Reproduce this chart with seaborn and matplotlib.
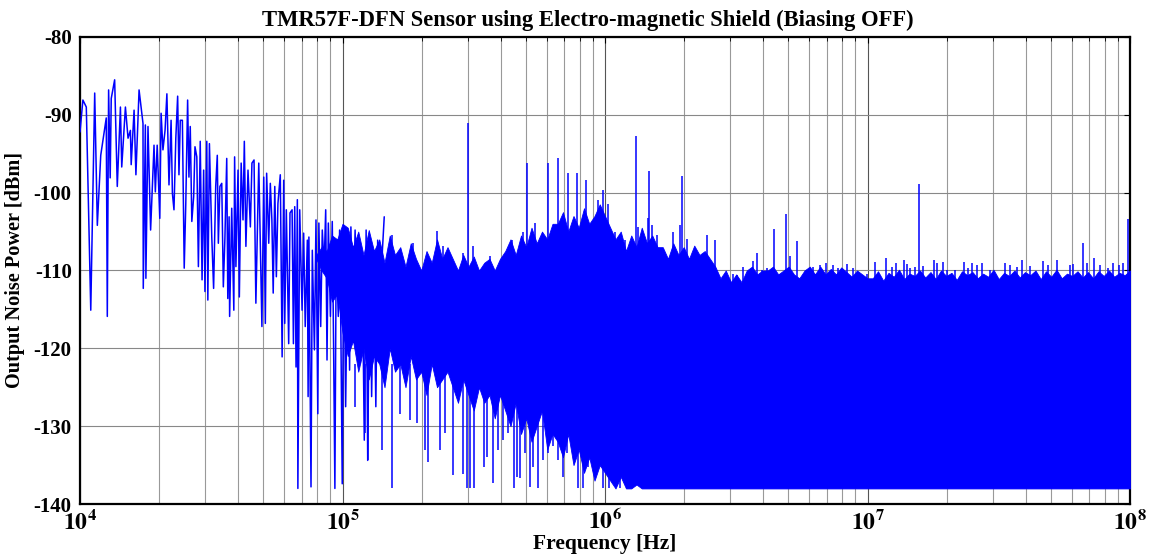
import numpy as np
import pandas as pd
import matplotlib
matplotlib.use("Agg")
import matplotlib.pyplot as plt
import seaborn as sns
from matplotlib.ticker import FixedLocator, LogLocator, NullFormatter

# ---------------- data ----------------
# Low-frequency part of the trace: log10(frequency / Hz) and power in dBm
sparse_log10_freq = [
    4.000, 4.011, 4.024, 4.041, 4.056, 4.066, 4.079, 4.100, 4.104, 4.109,
    4.115, 4.119, 4.132, 4.142, 4.154, 4.159, 4.173, 4.183, 4.192, 4.195,
    4.206, 4.213, 4.225, 4.240, 4.241, 4.249, 4.251, 4.259, 4.269, 4.282,
    4.287, 4.294, 4.304, 4.309, 4.316, 4.324, 4.331, 4.339, 4.347, 4.352,
    4.358, 4.365, 4.372, 4.377, 4.382, 4.390, 4.397, 4.403, 4.410, 4.415,
    4.420, 4.426, 4.433, 4.438, 4.445, 4.451, 4.458, 4.465, 4.471, 4.476,
    4.483, 4.487, 4.493, 4.502, 4.509, 4.517, 4.523, 4.527, 4.533, 4.540,
    4.546, 4.552, 4.559, 4.563, 4.568, 4.570, 4.578, 4.586, 4.589, 4.594,
    4.602, 4.607, 4.614, 4.621, 4.626, 4.632, 4.640, 4.649, 4.655, 4.663,
    4.670, 4.681, 4.686, 4.693, 4.700, 4.706, 4.711, 4.719, 4.725, 4.731,
    4.736, 4.742, 4.748, 4.754, 4.763, 4.770, 4.776, 4.780, 4.786, 4.795,
    4.800, 4.808, 4.813, 4.818, 4.823, 4.828, 4.830, 4.837, 4.846, 4.852,
    4.858, 4.866, 4.869, 4.872, 4.880, 4.885, 4.893, 4.899, 4.906, 4.910,
    4.917, 4.923, 4.930, 4.936, 4.941, 4.946, 4.954, 4.961, 4.966, 4.971,
    4.976, 4.984, 4.989, 4.994, 4.999, 5.005, 5.012, 5.020, 5.027, 5.032,
    5.040, 5.048, 5.055, 5.063, 5.068, 5.075, 5.083, 5.090, 5.096, 5.104,
    5.111, 5.119, 5.127, 5.134, 5.142, 5.152, 5.159,
]
sparse_power_dbm = [
    -92.2, -88.1, -89.0, -115.1, -87.2, -104.2, -95.2, -90.4, -115.9, -86.8,
    -98.1, -87.9, -85.5, -99.2, -89.0, -96.7, -89.0, -93.0, -92.0, -96.4,
    -89.4, -97.7, -86.8, -91.1, -112.3, -91.3, -111.0, -91.5, -104.8, -93.9,
    -99.9, -93.9, -103.3, -89.8, -94.5, -92.0, -87.3, -99.0, -90.7, -100.1,
    -102.2, -93.0, -87.6, -97.7, -90.7, -90.7, -109.7, -101.4, -88.1, -98.0,
    -91.5, -103.7, -100.5, -94.1, -95.4, -109.5, -93.4, -111.2, -97.1, -112.7,
    -93.4, -113.8, -93.7, -105.7, -112.3, -99.2, -95.2, -106.5, -99.2, -98.8,
    -112.1, -105.9, -95.6, -113.6, -103.1, -115.9, -102.0, -115.1, -95.4, -109.5,
    -97.1, -113.4, -96.2, -103.5, -93.4, -106.9, -97.1, -104.4, -96.2, -95.8,
    -114.2, -96.2, -105.2, -117.2, -98.0, -116.8, -97.5, -106.5, -98.8, -103.5,
    -112.9, -99.2, -110.8, -101.4, -97.7, -121.1, -98.4, -116.8, -102.2, -119.4,
    -102.6, -102.2, -119.4, -101.8, -122.4, -100.9, -138.0, -102.2, -115.1, -105.2,
    -117.2, -106.1, -126.2, -105.7, -137.8, -107.4, -120.2, -103.5, -128.4, -103.9,
    -117.2, -104.8, -109.5, -102.2, -121.5, -103.9, -115.9, -103.7, -119.4, -138.0,
    -107.4, -115.9, -104.8, -118.5, -137.4, -104.8, -127.5, -106.1, -122.8, -104.4,
    -118.5, -104.8, -116.8, -107.4, -121.9, -108.2, -131.8, -104.8, -134.4, -106.5,
    -126.2, -107.4, -127.5, -106.1, -121.9, -107.4, -103.1,
]

# Dense part: solid core band of the trace (upper / lower edge)
core_log10_freq = [
    4.90, 4.92, 4.94, 4.96, 4.98, 5.00,
    5.02, 5.04, 5.06, 5.08, 5.10, 5.12, 5.14, 5.16, 5.18, 5.20,
    5.22, 5.24, 5.26, 5.28, 5.30, 5.32, 5.34, 5.36, 5.38, 5.40,
    5.42, 5.44, 5.46, 5.48, 5.50, 5.52, 5.54, 5.56, 5.58, 5.60,
    5.62, 5.64, 5.66, 5.68, 5.70, 5.72, 5.74, 5.76, 5.78, 5.80,
    5.82, 5.84, 5.86, 5.88, 5.90, 5.92, 5.94, 5.96, 5.98, 6.00,
    6.02, 6.04, 6.06, 6.08, 6.10, 6.12, 6.14, 6.16, 6.18, 6.20,
    6.22, 6.24, 6.26, 6.28, 6.30, 6.32, 6.34, 6.36, 6.38, 6.40,
    6.42, 6.44, 6.46, 6.48, 6.50, 6.52, 6.54, 6.56, 6.58, 6.60,
    6.62, 6.64, 6.66, 6.68, 6.70, 6.72, 6.74, 6.76, 6.78, 6.80,
    6.82, 6.84, 6.86, 6.88, 6.90, 6.92, 6.94, 6.96, 6.98, 7.00,
    7.02, 7.04, 7.06, 7.08, 7.10, 7.12, 7.14, 7.16, 7.18, 7.20,
    7.22, 7.24, 7.26, 7.28, 7.30, 7.32, 7.34, 7.36, 7.38, 7.40,
    7.42, 7.44, 7.46, 7.48, 7.50, 7.52, 7.54, 7.56, 7.58, 7.60,
    7.62, 7.64, 7.66, 7.68, 7.70, 7.72, 7.74, 7.76, 7.78, 7.80,
    7.82, 7.84, 7.86, 7.88, 7.90, 7.92, 7.94, 7.96, 7.98, 8.00,
]
core_upper_dbm = [
    -108.0, -107.0, -107.5, -105.5, -106.0, -104.0,
    -104.5, -107.0, -105.0, -108.0, -104.8, -107.5, -106.0, -109.0, -105.5, -108.0,
    -107.0, -109.5, -106.5, -108.5, -110.0, -107.5, -109.0, -106.0, -108.5, -107.0,
    -108.5, -110.0, -108.0, -109.5, -108.2, -110.0, -109.0, -108.5, -110.0, -108.5,
    -107.5, -106.0, -108.0, -105.5, -107.0, -104.5, -106.5, -105.0, -106.0, -104.0,
    -104.0, -102.5, -105.0, -103.0, -104.5, -102.0, -104.0, -103.0, -101.5, -103.0,
    -104.5, -106.0, -105.0, -107.5, -105.5, -107.0, -104.5, -106.5, -105.5, -107.0,
    -107.0, -108.5, -106.5, -108.0, -107.0, -108.5, -106.8, -108.0, -107.5, -108.5,
    -109.5, -111.0, -110.0, -111.5, -110.5, -111.5, -110.0, -109.5, -110.5, -110.0,
    -110.0, -109.5, -110.5, -110.0, -109.5, -110.5, -111.0, -110.0, -109.5, -110.5,
    -109.5, -110.5, -109.8, -110.5, -109.6, -110.2, -110.8, -110.0, -110.5, -111.0,
    -111.0, -110.1, -111.3, -110.3, -110.8, -109.9, -111.1, -110.4, -110.7, -110.0,
    -110.9, -110.2, -111.1, -110.0, -110.7, -110.3, -111.2, -110.1, -110.6, -110.2,
    -111.0, -110.4, -110.8, -109.9, -111.1, -110.3, -110.7, -110.0, -110.9, -110.2,
    -110.6, -110.0, -111.1, -110.1, -110.8, -109.9, -111.0, -110.4, -110.7, -110.1,
    -110.9, -110.2, -111.0, -110.1, -110.7, -110.0, -110.8, -110.3, -110.6, -110.0,
]
core_lower_dbm = [
    -108.5, -110.0, -111.0, -114.0, -113.0, -118.0,
    -121.0, -119.0, -123.0, -120.0, -124.0, -121.0, -122.0, -125.0, -120.0, -123.0,
    -122.0, -125.0, -121.0, -124.0, -123.0, -126.0, -122.0, -125.0, -124.0, -123.0,
    -125.0, -127.0, -124.0, -126.0, -128.0, -125.0, -127.0, -126.0, -129.0, -126.0,
    -128.0, -130.0, -127.0, -131.0, -129.0, -132.0, -130.0, -128.0, -133.0, -131.0,
    -132.0, -134.0, -131.0, -135.0, -133.0, -136.0, -134.0, -137.0, -135.0, -136.0,
    -137.0, -138.0, -136.5, -138.0, -138.0, -137.5, -138.0, -138.0, -138.0, -138.0,
] + [-138.0] * 90

# Upward spikes above the core band
up_spike_log10_freq = [
    5.187, 5.270, 5.321, 5.359, 5.384, 5.460, 5.479, 5.498, 5.562, 5.645,
    5.686, 5.702, 5.733, 5.765, 5.784, 5.803, 5.822, 5.841, 5.860, 5.892,
    5.911, 5.928, 5.955, 5.974, 5.994, 6.013, 6.038, 6.076, 6.117, 6.127,
    6.144, 6.163, 6.169, 6.179, 6.197, 6.229, 6.260, 6.286, 6.292, 6.311,
    6.343, 6.387, 6.419, 6.489, 6.501, 6.527, 6.565, 6.580, 6.597, 6.616,
    6.644, 6.667, 6.690, 6.705, 6.733, 6.768, 6.794, 6.819, 6.841, 6.870,
    6.889, 6.921, 6.946, 6.997, 7.029, 7.070, 7.092, 7.109, 7.138, 7.149,
    7.162, 7.181, 7.196, 7.213, 7.253, 7.266, 7.289, 7.304, 7.333, 7.368,
    7.384, 7.399, 7.416, 7.437, 7.467, 7.524, 7.543, 7.568, 7.590, 7.619,
    7.667, 7.689, 7.721, 7.771, 7.784, 7.822, 7.835, 7.864, 7.886, 7.917,
    7.936, 7.958, 7.975, 7.992,
]
up_spike_dbm = [
    -105.4, -106.5, -108.0, -104.9, -106.9, -107.8, -91.1, -106.9, -108.2, -106.1,
    -105.0, -96.2, -103.9, -106.1, -96.2, -105.2, -95.6, -103.9, -97.5, -97.5,
    -104.8, -98.4, -105.0, -100.9, -99.7, -101.4, -105.0, -106.1, -92.7, -104.4,
    -105.2, -103.3, -97.2, -104.2, -105.4, -108.0, -105.1, -104.2, -97.9, -105.9,
    -107.6, -105.4, -106.1, -110.4, -110.6, -109.5, -108.8, -107.8, -109.9, -109.7,
    -104.7, -110.4, -102.7, -108.1, -106.2, -109.9, -109.5, -109.3, -109.1, -109.3,
    -109.7, -109.2, -109.7, -110.4, -108.9, -108.4, -109.5, -109.1, -108.6, -109.2,
    -109.7, -109.5, -98.9, -109.4, -108.6, -109.1, -108.9, -109.9, -109.9, -108.9,
    -109.7, -109.1, -109.3, -109.1, -109.9, -109.1, -109.3, -109.5, -108.6, -109.4,
    -108.8, -109.3, -108.6, -109.3, -109.2, -106.5, -109.1, -108.4, -109.3, -109.7,
    -109.1, -109.3, -109.1, -103.4,
]

# Downward spikes below the core band (1e5 .. 1.2e6 Hz)
down_spike_log10_freq = [
    5.048, 5.086, 5.098, 5.149, 5.187, 5.219, 5.257, 5.285, 5.314, 5.327,
    5.371, 5.390, 5.420, 5.458, 5.473, 5.486, 5.501, 5.540, 5.549, 5.575,
    5.594, 5.613, 5.632, 5.653, 5.664, 5.676, 5.695, 5.714, 5.727, 5.746,
    5.765, 5.784, 5.801, 5.822, 5.841, 5.856, 5.898, 5.917, 5.936, 5.955,
    5.974, 5.994, 6.016, 6.038, 6.057, 6.076,
]
down_spike_dbm = [
    -127.5, -130.9, -134.3, -133.1, -138.0, -128.4, -129.2, -129.6, -133.1, -134.6,
    -133.1, -130.9, -136.3, -136.1, -138.0, -138.0, -138.0, -135.2, -133.9, -137.3,
    -133.1, -131.8, -130.9, -138.0, -136.5, -136.7, -133.5, -137.8, -135.2, -138.0,
    -134.3, -133.5, -132.6, -134.3, -136.5, -133.5, -138.0, -138.0, -135.2, -135.2,
    -133.5, -138.0, -138.0, -133.1, -138.0, -134.3,
]

title_text = "TMR57F-DFN Sensor using Electro-magnetic Shield (Biasing OFF)"
xlabel_text = "Frequency [Hz]"
ylabel_text = "Output Noise Power [dBm]"
y_ticks = [-140, -130, -120, -110, -100, -90, -80]
x_decades = [4, 5, 6, 7, 8]

# ---------------- styling ----------------
sns.set_theme(style="white")
plt.rcParams["font.family"] = ["Liberation Serif", "DejaVu Serif"]
plt.rcParams["font.weight"] = "bold"
plt.rcParams["mathtext.fontset"] = "stix"
for key in ["text.color", "axes.labelcolor", "xtick.color", "ytick.color"]:
    plt.rcParams[key] = "black"

BLUE = "#0000ff"

fig = plt.figure(figsize=(11.5, 5.58), dpi=100)
ax = fig.add_axes([80 / 1150, 54 / 558, 1050 / 1150, 467 / 558])

# core band
core_f = 10 ** np.array(core_log10_freq)
ax.fill_between(core_f, core_lower_dbm, core_upper_dbm, color=BLUE, linewidth=0.6,
                edgecolor=BLUE, zorder=3)

# spikes
ax.vlines(10 ** np.array(up_spike_log10_freq), -112, up_spike_dbm, color=BLUE,
          linewidth=1.1, zorder=3)
ax.vlines(10 ** np.array(down_spike_log10_freq), -122, down_spike_dbm, color=BLUE,
          linewidth=1.1, zorder=3)

# sparse trace
df = pd.DataFrame({"freq": 10 ** np.array(sparse_log10_freq), "power": sparse_power_dbm})
sns.lineplot(data=df, x="freq", y="power", ax=ax, color=BLUE, linewidth=1.1,
             estimator=None, sort=False, zorder=4)

ax.set_xscale("log")
ax.set_xlim(1e4, 1e8)
ax.set_ylim(-140, -80)

# ticks
ax.xaxis.set_major_locator(FixedLocator([10.0 ** d for d in x_decades]))
ax.set_xticklabels([r"$\mathbf{10^{%d}}$" % d for d in x_decades])
ax.xaxis.set_minor_locator(LogLocator(base=10, subs=np.arange(2, 10)))
ax.xaxis.set_minor_formatter(NullFormatter())
ax.set_yticks(y_ticks)
ax.set_yticklabels([str(v) for v in y_ticks])
ax.tick_params(axis="both", which="both", direction="in", top=True, right=True,
               labelsize=15, colors="black", pad=6)
ax.tick_params(axis="both", which="major", length=4, width=0.8)
ax.tick_params(axis="both", which="minor", length=3, width=0.6)
for lab in ax.get_yticklabels():
    lab.set_fontweight("bold")
ax.tick_params(axis="x", labelsize=17, pad=4)

# grid
ax.set_axisbelow(True)
ax.grid(which="major", axis="x", color="#555555", linewidth=0.8)
ax.grid(which="minor", axis="x", color="#999999", linewidth=0.8)
ax.grid(which="major", axis="y", color="#888888", linewidth=0.8)

for s in ax.spines.values():
    s.set_color("black")
    s.set_linewidth(1.6)

ax.set_title(title_text, fontsize=16.3, fontweight="bold", pad=8, color="black", x=0.484)
ax.set_xlabel(xlabel_text, fontsize=15.5, fontweight="bold", labelpad=0)
ax.set_ylabel(ylabel_text, fontsize=14.6, fontweight="bold", labelpad=6)

fig.savefig("out.png", dpi=100)
